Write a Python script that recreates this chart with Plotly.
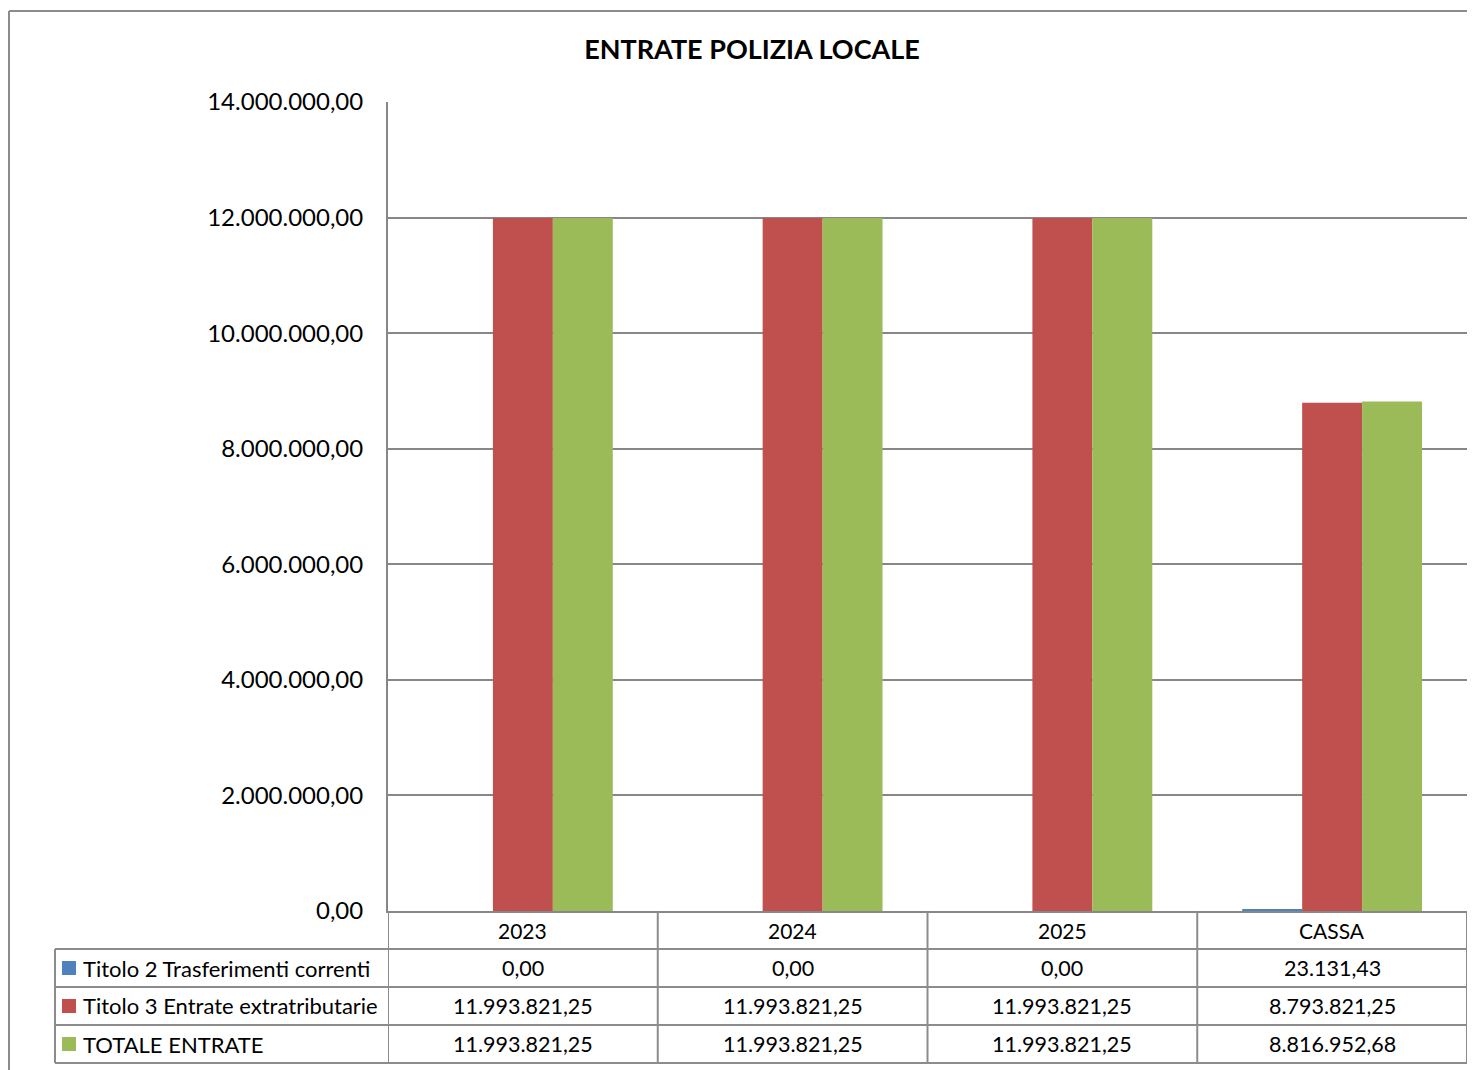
import plotly.graph_objects as go

categories = ["2023", "2024", "2025", "CASSA"]
series_names = ["Titolo 2 Trasferimenti correnti",
                "Titolo 3 Entrate extratributarie",
                "TOTALE ENTRATE"]
titolo2 = [0.00, 0.00, 0.00, 23131.43]
titolo3 = [11993821.25, 11993821.25, 11993821.25, 8793821.25]
totale = [11993821.25, 11993821.25, 11993821.25, 8816952.68]
colors = ["#4F81BD", "#C0504D", "#9BBB59"]

FONT = "Lato"
GRID = "#878787"

# the page body adds an 8px margin, so the figure is drawn 8px smaller
OFF = 8
W, H = 1475 - OFF, 1070 - OFF
# plot area in page pixels: x 388..1467, y 102..911
L, R, T, B = 388 - OFF, 1467 - OFF, 102 - OFF, 911 - OFF


def px(x):
    return (x - OFF - L) / (R - L)


def py(y):
    return (B - (y - OFF)) / (B - T)


def it_num(v):
    s = f"{v:,.2f}"
    return s.replace(",", "_").replace(".", ",").replace("_", ".")


fig = go.Figure()
for name, vals, col in zip(series_names, [titolo2, titolo3, totale], colors):
    fig.add_trace(go.Bar(x=categories, y=vals, name=name, marker_color=col,
                         marker_line_width=0, showlegend=False))

shapes = []
annotations = []
line = dict(color="#8c8c8c", width=2)

# outer chart border (top and left)
shapes.append(dict(type="line", xref="paper", yref="paper", x0=px(9), x1=px(1480),
                   y0=py(11), y1=py(11), line=line))
shapes.append(dict(type="line", xref="paper", yref="paper", x0=px(9), x1=px(9),
                   y0=py(11), y1=py(1075), line=line))

# data table, rows of 38 px below the axis
TB = 911
row_h = 38
for i in range(len(categories) + 1):
    xv = i - 0.5
    shapes.append(dict(type="line", xref="x", yref="paper", x0=xv, x1=xv,
                       y0=py(TB), y1=py(TB + 4 * row_h), line=line))
for r in range(1, 5):
    shapes.append(dict(type="line", xref="paper", yref="paper", x0=px(55), x1=1,
                       y0=py(TB + r * row_h), y1=py(TB + r * row_h), line=line))
shapes.append(dict(type="line", xref="paper", yref="paper", x0=px(55), x1=px(55),
                   y0=py(TB + row_h), y1=py(TB + 4 * row_h), line=line))

# header labels
for i, c in enumerate(categories):
    annotations.append(dict(x=i, y=py(TB + row_h / 2), xref="x", yref="paper",
                            text=c, showarrow=False, xanchor="center", yanchor="middle",
                            font=dict(family=FONT, size=21, color="black")))

# series rows
for r, (name, vals, col) in enumerate(zip(series_names, [titolo2, titolo3, totale], colors)):
    yc = TB + row_h * (r + 1) + row_h / 2
    shapes.append(dict(type="rect", xref="paper", yref="paper", x0=px(62), x1=px(76),
                       y0=py(yc - 7), y1=py(yc + 7), fillcolor=col, line_width=0))
    annotations.append(dict(x=px(81), y=py(yc), xref="paper", yref="paper", text=name,
                            showarrow=False, xanchor="left", yanchor="middle",
                            font=dict(family=FONT, size=22, color="black")))
    for i, v in enumerate(vals):
        annotations.append(dict(x=i, y=py(yc), xref="x", yref="paper", text=it_num(v),
                                showarrow=False, xanchor="center", yanchor="middle",
                                font=dict(family=FONT, size=21.5, color="black")))

fig.update_layout(
    width=W, height=H,
    margin=dict(l=L, r=W - R, t=T, b=H - B),
    paper_bgcolor="white", plot_bgcolor="white",
    separators=",.",
    barmode="group", bargap=1 / 3, bargroupgap=0,
    title=dict(text="<b>ENTRATE POLIZIA LOCALE</b>", x=(752 - OFF) / W, xanchor="center",
               y=1 - (50 - OFF) / H, yanchor="middle", xref="container", yref="container",
               font=dict(family=FONT, size=27, color="black")),
    font=dict(family=FONT, size=22, color="black"),
    shapes=shapes, annotations=annotations,
)
fig.update_xaxes(type="category", range=[-0.5, 3.5], showticklabels=False, ticks="",
                 showgrid=False, showline=True, linecolor=GRID, linewidth=2, zeroline=False)
fig.update_yaxes(range=[0, 14e6], dtick=2e6, tickformat=",.2f", showgrid=True,
                 gridcolor=GRID, gridwidth=2, showline=True, linecolor=GRID, linewidth=2,
                 zeroline=False, ticks="", ticklabelstandoff=18,
                 tickfont=dict(family=FONT, size=24, color="black"))

fig.write_html("out.html")
